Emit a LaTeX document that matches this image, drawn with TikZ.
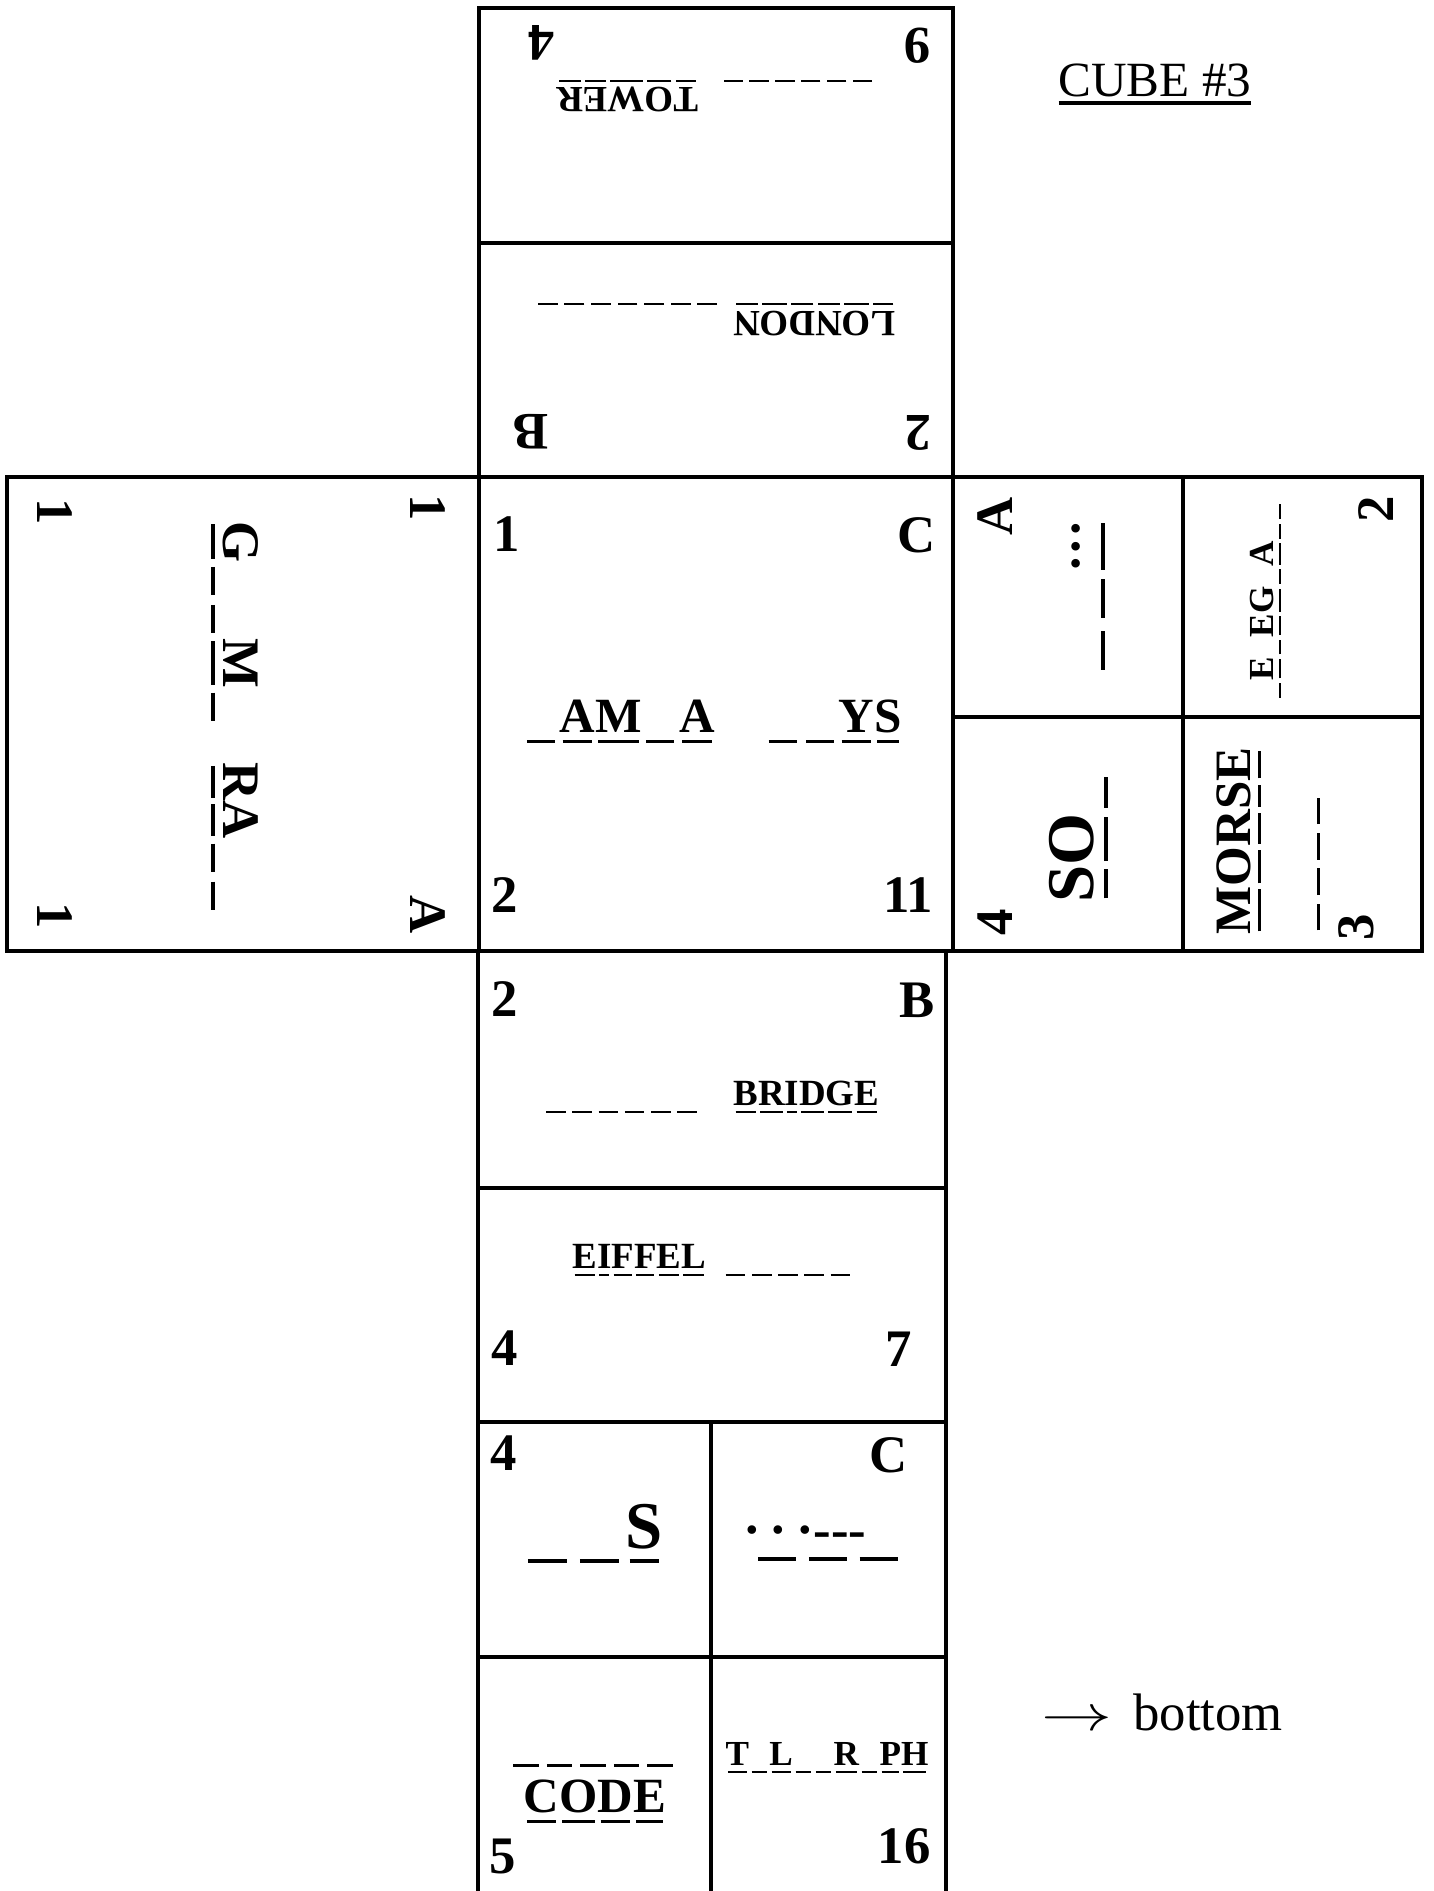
\documentclass[tikz,border=0pt]{standalone}
\usepackage{fontspec}
\setmainfont{Liberation Serif}
\usepackage{tikz}

% one underlined slot of a clue: a letter, or an empty dash
\newcommand\blnkw{0.72em}
\newcommand\blnk{\makebox[\blnkw]{\rule[-0.22em]{\dimexpr\blnkw*3/4\relax}{0.06em}}}
\newcommand\uchar[1]{\setbox0=\hbox{#1}\rlap{\kern0.06em\rule[-0.22em]{\dimexpr\wd0-0.12em\relax}{0.06em}}\box0}
\newcommand\uline[1]{\setbox0=\hbox{#1}\rlap{\rule[-0.16em]{\wd0}{0.07em}}\box0}
% _ gives a blank slot, any other letter an underlined one
\newcommand\uword[1]{\uwordi#1\relax}
\def\uwordi#1{\ifx#1\relax\else\ifx#1_\blnk\else\uchar{#1}\fi\expandafter\uwordi\fi}

\begin{document}
\begin{tikzpicture}[x=0.01cm, y=-0.01cm,
  face/.style={line width=1pt},
  corner/.style={font=\bfseries\fontsize{15}{18}\selectfont, inner sep=0pt},
  clue/.style={font=\bfseries\fontsize{10.5}{12}\selectfont, inner sep=0pt, anchor=base},
  word/.style={font=\bfseries\fontsize{14}{16}\selectfont, inner sep=0pt, anchor=base},
  bigword/.style={font=\bfseries\fontsize{19}{22}\selectfont, inner sep=0pt, anchor=base},
  note/.style={font=\fontsize{15}{18}\selectfont, inner sep=0pt, anchor=base}
]
\useasboundingbox (0,0) rectangle (1434,1891);

% faces of the net
\draw[face] (479,8) rectangle (953,477);
\draw[face] (479,243) -- (953,243);
\draw[face] (7,477) rectangle (1422,951);
\draw[face] (479,477) -- (479,951) (953,477) -- (953,951);
\draw[face] (1183,477) -- (1183,951) (953,717) -- (1422,717);
\draw[face] (478,1891) -- (478,951) (946,951) -- (946,1891);
\draw[face] (478,1188) -- (946,1188) (478,1422) -- (946,1422) (478,1657) -- (946,1657);
\draw[face] (711,1422) -- (711,1891);

% top face, upside down
\node[corner, rotate=180] (top4) at (541,43) {4};
\node[corner, rotate=180] (top9) at (917,46) {9};
\node[clue, rotate=180] (tower) at (716,88) {\renewcommand\blnkw{0.7em}\uword{______}\hspace{0.6em}\uword{TOWER}};
\node[clue, rotate=180] (london) at (715,311) {\uword{LONDON}\hspace{0.35em}\uword{_______}};
\node[corner, rotate=180] (topB) at (531,432) {B};
\node[corner, rotate=180] (top2) at (918,433) {2};

% left face
\node[corner, rotate=-90] (lft1a) at (55,512) {1};
\node[corner, rotate=-90] (lft1b) at (428,508) {1};
\node[corner, rotate=-90] (lft1c) at (55,916) {1};
\node[corner, rotate=-90] (lftA) at (428,915) {A};
\node[word, rotate=-90, font=\bfseries\fontsize{15}{18}\selectfont] (gammal) at (223,718) {\uword{G__M_}\hspace{0.7em}\uword{RA__}};

% centre face
\node[corner] (cen1) at (507,534) {1};
\node[corner] (cenC) at (917,535) {C};
\node[corner] (cen2) at (505,895) {2};
\node[corner] (cen11) at (908,895) {11};
\node[word] (gammac) at (712,732) {\renewcommand\blnkw{0.76em}\uword{_AM_A}\hspace{1em}\uword{__YS}};

% right face
\node[corner, rotate=90] (rgtA) at (995,516) {A};
\node[corner, rotate=90] (rgt4) at (995,922) {4};
\node[corner, rotate=90] (rgt2) at (1376,509) {2};
\node[corner, rotate=90] (rgt3) at (1356,927) {3};
\node[word, rotate=90, font=\bfseries\fontsize{15}{18}\selectfont] (dots) at (1093,598) {\renewcommand\blnkw{0.98em}\uword{__}\uchar{\textperiodcentered\textperiodcentered\textperiodcentered}};
\node[bigword, rotate=90] (sos) at (1093,837) {\renewcommand\blnkw{0.62em}\uword{SO_}};
\node[clue, rotate=90, font=\bfseries\fontsize{10}{12}\selectfont] (elegraph) at (1273,601) {\renewcommand\blnkw{0.56em}\uword{_E_EG_A__}};
\node[word, rotate=90, font=\bfseries\fontsize{14.5}{17}\selectfont] (morse) at (1250,841) {\uword{MORSE}};
\node[word, rotate=90] (codeblk) at (1309,864) {\uword{____}};

% bottom column
\node[corner] (bot2) at (505,999) {2};
\node[corner] (botB) at (917,1000) {B};
\node[clue] (bridge) at (711,1105) {\renewcommand\blnkw{0.71em}\uword{______}\hspace{0.9em}\uword{BRIDGE}};
\node[clue] (eiffel) at (713,1268) {\renewcommand\blnkw{0.71em}\uword{EIFFEL}\hspace{0.45em}\uword{_____}};
\node[corner] (bot4a) at (505,1348) {4};
\node[corner] (bot7) at (899,1349) {7};
\node[corner] (bot4b) at (504,1453) {4};
\node[corner] (botC) at (889,1455) {C};
\node[bigword] (sblk) at (592,1548) {\renewcommand\blnkw{0.78em}\uword{__S}};
\node[word, font=\bfseries\fontsize{15}{18}\selectfont] (sosmark) at (805,1547) {\textperiodcentered\,\textperiodcentered\,\textperiodcentered{-}{-}{-}};
\node[bigword] (oblk) at (828,1546) {\renewcommand\blnkw{0.76em}\uword{___}};
\node[word] (morseblk) at (593,1756) {\renewcommand\blnkw{0.68em}\uword{_____}};
\node[word] (code) at (595,1812) {\uword{CODE}};
\node[clue, font=\bfseries\fontsize{10}{12}\selectfont] (telegraph) at (827,1765) {\renewcommand\blnkw{0.58em}\uword{T_L__R_PH}};
\node[corner] (bot5) at (503,1856) {5};
\node[corner] (bot16) at (904,1846) {16};

% title and note
\node[note, font=\fontsize{14}{17}\selectfont] (title) at (1155,97) {\uline{CUBE \#3}};
\node[note] (bottom) at (1162,1730) {\scalebox{1.4}[1]{$\rightarrow$}\hspace{0.4em}bottom};
\end{tikzpicture}
\end{document}
